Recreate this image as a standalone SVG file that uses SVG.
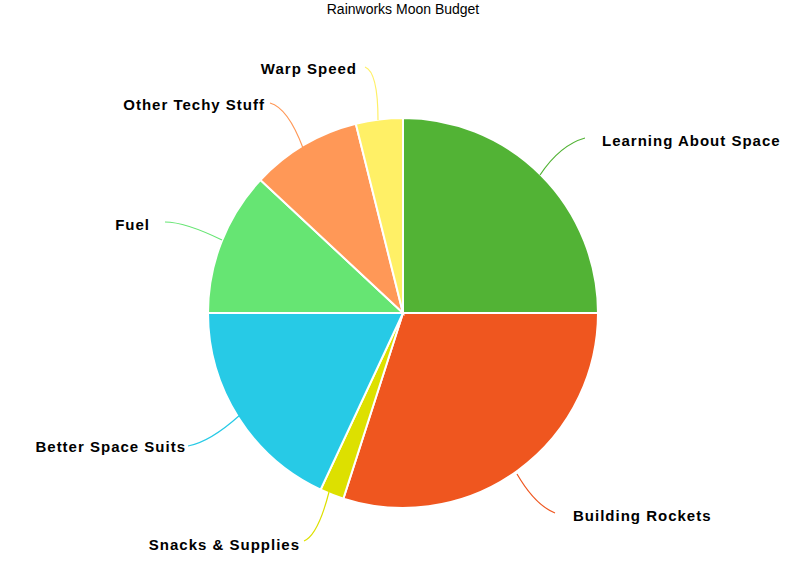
<svg xmlns="http://www.w3.org/2000/svg" width="812" height="572" viewBox="0 0 812 572">
<style>
.s{stroke:#fff;stroke-width:2}
.l{fill:none;stroke-width:1.2}
.t{font-family:"Liberation Sans",Arial,sans-serif;font-size:15px;font-weight:bold;letter-spacing:1px;fill:#000}
</style>
<rect width="812" height="572" fill="#fff"/>
<text x="403" y="14" text-anchor="middle" font-family="Liberation Sans,Arial,sans-serif" font-size="14">Rainworks Moon Budget</text>
<g id="slices">
<path id="learning" class="s" fill="#52b335" d="M403,313 L403,118 A195,195 0 0 1 598,313 Z"/>
<path id="rockets" class="s" fill="#ef561f" d="M403,313 L598,313 A195,195 0 0 1 343.4,498.6 Z"/>
<path id="snacks" class="s" fill="#dde000" d="M403,313 L343.4,498.6 A195,195 0 0 1 320.6,489.7 Z"/>
<path id="suits" class="s" fill="#27cae6" d="M403,313 L320.6,489.7 A195,195 0 0 1 208,313 Z"/>
<path id="fuel" class="s" fill="#66e573" d="M403,313 L208,313 A195,195 0 0 1 260.4,180 Z"/>
<path id="techy" class="s" fill="#ff9857" d="M403,313 L260.4,180 A195,195 0 0 1 355.8,123.8 Z"/>
<path id="warp" class="s" fill="#fff066" d="M403,313 L355.8,123.8 A195,195 0 0 1 403,118 Z"/>
</g>
<g id="connectors">
<path class="l" stroke="#52b335" d="M540,175 Q560,145 585,138"/>
<path class="l" stroke="#ef561f" d="M517,474 Q535,505 555,513"/>
<path class="l" stroke="#dde000" d="M329,492 Q318,535 304,541"/>
<path class="l" stroke="#27cae6" d="M240,415 Q210,442 188,446"/>
<path class="l" stroke="#66e573" d="M222,240 Q185,222 165,222"/>
<path class="l" stroke="#ff9857" d="M303,148 Q288,108 270,103"/>
<path class="l" stroke="#fff066" d="M378,120 Q378,72 365,67"/>
</g>
<g id="labels">
<text class="t" x="602" y="146">Learning About Space</text>
<text class="t" x="573" y="521">Building Rockets</text>
<text class="t" x="300" y="550" text-anchor="end">Snacks &amp; Supplies</text>
<text class="t" x="186" y="452" text-anchor="end">Better Space Suits</text>
<text class="t" x="150" y="230" text-anchor="end">Fuel</text>
<text class="t" x="265" y="110" text-anchor="end">Other Techy Stuff</text>
<text class="t" x="357" y="74" text-anchor="end">Warp Speed</text>
</g>
</svg>
